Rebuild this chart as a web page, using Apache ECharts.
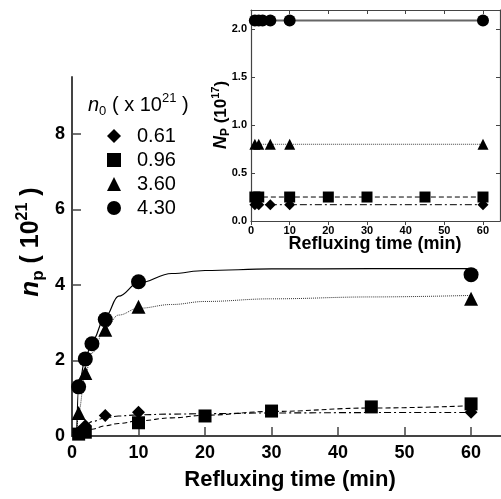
<!DOCTYPE html>
<html><head><meta charset="utf-8">
<script src="https://cdn.jsdelivr.net/npm/echarts@6/dist/echarts.min.js"></script>
<style>html,body{margin:0;padding:0;background:#fff}#c{width:501px;height:499px}</style>
</head><body><div id="c"></div>
<script>
const FONT = 'Liberation Sans, Arial, sans-serif';
const legendLabels = ['0.61', '0.96', '3.60', '4.30'];
const xTicks = [0, 10, 20, 30, 40, 50, 60];
const yTicksMain = [0, 2, 4, 6, 8];
const yTicksInset = [0, 0.5, 1, 1.5, 2];

// main plot: refluxing time (min) vs n_p (10^21)
const tDiamond = [1, 2, 5, 10, 60];
const npDiamond = [0.1, 0.27, 0.54, 0.63, 0.63];
const tSquare = [1, 2, 10, 20, 30, 45, 60];
const npSquare = [0.05, 0.1, 0.35, 0.53, 0.66, 0.77, 0.85];
const tTriangle = [1, 2, 5, 10, 60];
const npTriangle = [0.61, 1.67, 2.81, 3.42, 3.63];
const tCircle = [1, 2, 3, 5, 10, 60];
const npCircle = [1.3, 2.04, 2.44, 3.08, 4.08, 4.27];

// fitted curves
const tFit = [0.7, 1, 2, 3, 5, 7, 10, 15, 20, 30, 45, 60];
const fitDiamond = [0, 0.12, 0.28, 0.38, 0.48, 0.53, 0.56, 0.58, 0.59, 0.61, 0.62, 0.62];
const fitSquare = [0, 0.04, 0.12, 0.18, 0.27, 0.33, 0.4, 0.48, 0.55, 0.65, 0.74, 0.8];
const fitTriangle = [0, 0.65, 1.65, 2.2, 2.85, 3.2, 3.38, 3.48, 3.56, 3.63, 3.68, 3.72];
const fitCircle = [0, 1.3, 2.05, 2.5, 3.15, 3.7, 4.05, 4.3, 4.38, 4.42, 4.43, 4.43];

// inset: N_P (10^17)
const NpDiamond = [0.17, 0.17, 0.17, 0.17, 0.17];
const NpSquare = [0.25, 0.25, 0.25, 0.25, 0.25, 0.25, 0.25];
const NpTriangle = [0.8, 0.8, 0.8, 0.8, 0.8];
const NpCircle = [2.09, 2.09, 2.09, 2.09, 2.09, 2.09];

const zip = (a, b) => a.map((v, i) => [v, b[i]]);

const axisCol = '#444';
const mainLabel = { fontFamily: FONT, fontWeight: 'bold', fontSize: 18, color: '#000' };
const insetLabel = { fontFamily: FONT, fontWeight: 'bold', fontSize: 11, color: '#000' };

const chart = echarts.init(document.getElementById('c'));
const symbols = ['diamond', 'rect', 'triangle', 'circle'];
const mainSizes = [13, 13, 14, 15];
const insetSizes = [11, 11, 11, 12];
const mainPts = [zip(tDiamond, npDiamond), zip(tSquare, npSquare), zip(tTriangle, npTriangle), zip(tCircle, npCircle)];
const fits = [fitDiamond, fitSquare, fitTriangle, fitCircle];
const insetPts = [zip(tDiamond, NpDiamond), zip(tSquare, NpSquare), zip(tTriangle, NpTriangle), zip(tCircle, NpCircle)];
const fitStyles = [
  { type: [7, 3, 2, 3], width: 1.1, color: '#000' },
  { type: [5, 3], width: 1.1, color: '#000' },
  { type: [1, 1], width: 1, color: '#333' },
  { type: 'solid', width: 1.2, color: '#000' }
];
const insetStyles = [
  { type: [7, 3, 2, 3], width: 1, color: '#000' },
  { type: [5, 3], width: 1, color: '#000' },
  { type: [1, 1], width: 1, color: '#444' },
  { type: 'solid', width: 2, color: '#666' }
];

const series = [];
for (let i = 0; i < 4; i++) {
  series.push({
    type: 'line', xAxisIndex: 0, yAxisIndex: 0, data: zip(tFit, fits[i]),
    showSymbol: false, smooth: 0.4, smoothMonotone: 'x', lineStyle: fitStyles[i], z: 2, silent: true
  });
}
for (let i = 0; i < 4; i++) {
  series.push({
    type: 'scatter', name: legendLabels[i], xAxisIndex: 0, yAxisIndex: 0, data: mainPts[i],
    symbol: symbols[i], symbolSize: mainSizes[i], itemStyle: { color: '#000', opacity: 1 }, z: 4
  });
}
for (let i = 0; i < 4; i++) {
  series.push({
    type: 'line', xAxisIndex: 1, yAxisIndex: 1, data: insetPts[i],
    symbol: symbols[i], symbolSize: insetSizes[i], showSymbol: true,
    itemStyle: { color: '#000', opacity: 1 }, lineStyle: insetStyles[i], z: 4
  });
}

chart.setOption({
  animation: false,
  backgroundColor: '#fff',
  grid: [
    { left: 72, top: 77, width: 430, height: 359, containLabel: false },
    { left: 251, top: 10, width: 249, height: 211, containLabel: false }
  ],
  xAxis: [
    { type: 'value', gridIndex: 0, min: 0, max: 64.5,
      axisLine: { lineStyle: { color: axisCol, width: 2 } },
      axisTick: { inside: true, length: 9, customValues: xTicks, lineStyle: { color: axisCol, width: 1.5 } },
      axisLabel: { customValues: xTicks, margin: 8, ...mainLabel },
      splitLine: { show: false } },
    { type: 'value', gridIndex: 1, min: 0, max: 64.4,
      axisLine: { onZero: false, lineStyle: { color: axisCol, width: 1.2 } },
      axisTick: { inside: false, length: 4, customValues: xTicks, lineStyle: { color: axisCol } },
      axisLabel: { customValues: xTicks, margin: 4, ...insetLabel },
      splitLine: { show: false } },
    { type: 'value', gridIndex: 1, min: 0, max: 64.4, position: 'top',
      axisLine: { onZero: false, lineStyle: { color: axisCol, width: 1.2 } },
      axisTick: { inside: true, length: 4, customValues: xTicks, lineStyle: { color: axisCol } },
      axisLabel: { show: false }, splitLine: { show: false } }
  ],
  yAxis: [
    { type: 'value', gridIndex: 0, min: 0, max: 9.5,
      axisLine: { show: true, lineStyle: { color: axisCol, width: 2 } },
      axisTick: { show: true, inside: true, length: 9, customValues: yTicksMain, lineStyle: { color: axisCol, width: 1.5 } },
      axisLabel: { customValues: yTicksMain, margin: 7, ...mainLabel },
      splitLine: { show: false } },
    { type: 'value', gridIndex: 1, min: 0, max: 2.2,
      axisLine: { show: true, onZero: false, lineStyle: { color: axisCol, width: 1.2 } },
      axisTick: { show: true, inside: true, length: 4, customValues: yTicksInset, lineStyle: { color: axisCol } },
      axisLabel: { customValues: yTicksInset, margin: 4, formatter: v => v.toFixed(1), ...insetLabel },
      splitLine: { show: false } },
    { type: 'value', gridIndex: 1, min: 0, max: 2.2, position: 'right',
      axisLine: { show: true, onZero: false, lineStyle: { color: axisCol, width: 1.2 } },
      axisTick: { show: true, inside: true, length: 4, customValues: yTicksInset, lineStyle: { color: axisCol } },
      axisLabel: { show: false }, splitLine: { show: false } }
  ],
  legend: {
    data: legendLabels.map((n, i) => ({ name: n, icon: symbols[i] })),
    orient: 'vertical', left: 102, top: 121, itemWidth: 14, itemHeight: 14, itemGap: 4,
    selectedMode: false,
    textStyle: { fontFamily: FONT, fontSize: 20, color: '#000', lineHeight: 18, padding: [0, 0, 0, 11] }
  },
  graphic: [
    { type: 'text', left: 88, top: 92, style: {
      text: '{i|n}{sub|0}{t| ( x 10}{sup|21}{t| )}', fill: '#000',
      rich: {
        i: { fontFamily: FONT, fontSize: 20, fontStyle: 'italic', lineHeight: 26, verticalAlign: 'middle' },
        sub: { fontFamily: FONT, fontSize: 13, lineHeight: 26, verticalAlign: 'bottom' },
        t: { fontFamily: FONT, fontSize: 20, lineHeight: 26, verticalAlign: 'middle' },
        sup: { fontFamily: FONT, fontSize: 13, lineHeight: 13, verticalAlign: 'top' }
      } } },
    { type: 'text', x: 290, y: 480, style: {
      text: 'Refluxing time (min)', fill: '#000', font: 'bold 22px ' + FONT, align: 'center', verticalAlign: 'middle' } },
    { type: 'text', x: 375, y: 244, style: {
      text: 'Refluxing time (min)', fill: '#000', font: 'bold 18px ' + FONT, align: 'center', verticalAlign: 'middle' } },
    { type: 'text', x: 31, y: 242, rotation: Math.PI / 2, style: {
      text: '{i|n}{sub|p}{t| ( 10}{sup|21}{t| )}', fill: '#000', align: 'center', verticalAlign: 'middle',
      rich: {
        i: { fontFamily: FONT, fontSize: 26, fontWeight: 'bold', fontStyle: 'italic', lineHeight: 32, verticalAlign: 'middle' },
        sub: { fontFamily: FONT, fontSize: 17, fontWeight: 'bold', lineHeight: 32, verticalAlign: 'bottom' },
        t: { fontFamily: FONT, fontSize: 25, fontWeight: 'bold', lineHeight: 32, verticalAlign: 'middle' },
        sup: { fontFamily: FONT, fontSize: 16, fontWeight: 'bold', lineHeight: 16, verticalAlign: 'top' }
      } } },
    { type: 'text', x: 221, y: 115, rotation: Math.PI / 2, style: {
      text: '{i|N}{sub|P}{t| (10}{sup|17}{t|)}', fill: '#000', align: 'center', verticalAlign: 'middle',
      rich: {
        i: { fontFamily: FONT, fontSize: 18, fontWeight: 'bold', fontStyle: 'italic', lineHeight: 22, verticalAlign: 'middle' },
        sub: { fontFamily: FONT, fontSize: 12, fontWeight: 'bold', lineHeight: 22, verticalAlign: 'bottom' },
        t: { fontFamily: FONT, fontSize: 17, fontWeight: 'bold', lineHeight: 22, verticalAlign: 'middle' },
        sup: { fontFamily: FONT, fontSize: 11, fontWeight: 'bold', lineHeight: 11, verticalAlign: 'top' }
      } } }
  ],
  series: series
});
</script></body></html>
